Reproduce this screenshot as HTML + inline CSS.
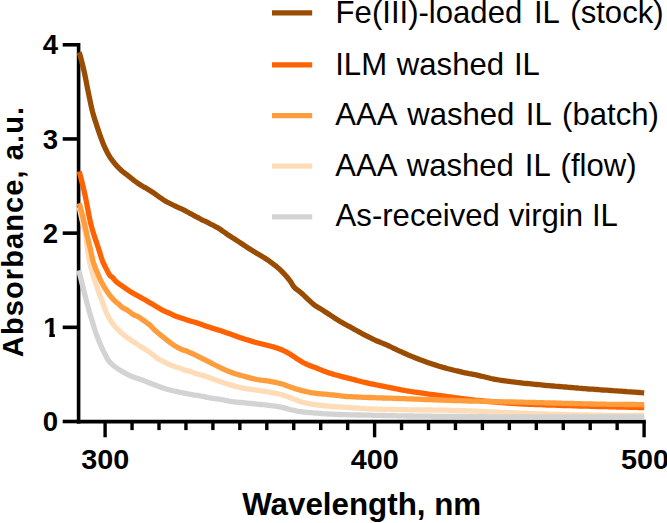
<!DOCTYPE html>
<html lang="en">
<head>
<meta charset="utf-8">
<title>UV-Vis absorbance spectra</title>
<style>
html,body{margin:0;padding:0;background:#fff;}
svg{display:block;}
text{font-family:"Liberation Sans",Arial,Helvetica,sans-serif;fill:#000;}
.r{font-size:31.1px;}
.b{font-weight:bold;}
.t{font-size:28.4px;}
.a{font-size:31px;}
</style>
</head>
<body>
<svg width="667" height="523" viewBox="0 0 667 523">
<rect x="0" y="0" width="667" height="523" fill="#fff"/>
<g id="axes">
<line x1="78.6" y1="43.0" x2="78.6" y2="423.4" stroke="#000" stroke-width="3.6"/>
<line x1="76.8" y1="421.6" x2="645.8" y2="421.6" stroke="#000" stroke-width="3.6"/>
<line x1="62.7" y1="421.50" x2="78.6" y2="421.50" stroke="#000" stroke-width="3.6"/>
<line x1="62.7" y1="327.32" x2="78.6" y2="327.32" stroke="#000" stroke-width="3.6"/>
<line x1="62.7" y1="233.14" x2="78.6" y2="233.14" stroke="#000" stroke-width="3.6"/>
<line x1="62.7" y1="138.96" x2="78.6" y2="138.96" stroke="#000" stroke-width="3.6"/>
<line x1="62.7" y1="44.78" x2="78.6" y2="44.78" stroke="#000" stroke-width="3.6"/>
<line x1="105.10" y1="421.6" x2="105.10" y2="437.3" stroke="#000" stroke-width="3.4"/>
<line x1="132.05" y1="421.6" x2="132.05" y2="430.1" stroke="#000" stroke-width="3.4"/>
<line x1="159.00" y1="421.6" x2="159.00" y2="430.1" stroke="#000" stroke-width="3.4"/>
<line x1="185.95" y1="421.6" x2="185.95" y2="430.1" stroke="#000" stroke-width="3.4"/>
<line x1="212.90" y1="421.6" x2="212.90" y2="430.1" stroke="#000" stroke-width="3.4"/>
<line x1="239.85" y1="421.6" x2="239.85" y2="430.1" stroke="#000" stroke-width="3.4"/>
<line x1="266.80" y1="421.6" x2="266.80" y2="430.1" stroke="#000" stroke-width="3.4"/>
<line x1="293.75" y1="421.6" x2="293.75" y2="430.1" stroke="#000" stroke-width="3.4"/>
<line x1="320.70" y1="421.6" x2="320.70" y2="430.1" stroke="#000" stroke-width="3.4"/>
<line x1="347.65" y1="421.6" x2="347.65" y2="430.1" stroke="#000" stroke-width="3.4"/>
<line x1="374.60" y1="421.6" x2="374.60" y2="437.3" stroke="#000" stroke-width="3.4"/>
<line x1="401.55" y1="421.6" x2="401.55" y2="430.1" stroke="#000" stroke-width="3.4"/>
<line x1="428.50" y1="421.6" x2="428.50" y2="430.1" stroke="#000" stroke-width="3.4"/>
<line x1="455.45" y1="421.6" x2="455.45" y2="430.1" stroke="#000" stroke-width="3.4"/>
<line x1="482.40" y1="421.6" x2="482.40" y2="430.1" stroke="#000" stroke-width="3.4"/>
<line x1="509.35" y1="421.6" x2="509.35" y2="430.1" stroke="#000" stroke-width="3.4"/>
<line x1="536.30" y1="421.6" x2="536.30" y2="430.1" stroke="#000" stroke-width="3.4"/>
<line x1="563.25" y1="421.6" x2="563.25" y2="430.1" stroke="#000" stroke-width="3.4"/>
<line x1="590.20" y1="421.6" x2="590.20" y2="430.1" stroke="#000" stroke-width="3.4"/>
<line x1="617.15" y1="421.6" x2="617.15" y2="430.1" stroke="#000" stroke-width="3.4"/>
<line x1="644.10" y1="421.6" x2="644.10" y2="437.3" stroke="#000" stroke-width="3.4"/>
</g>
<g id="curves">
<polyline points="79.2,207.0 79.7,209.4 80.2,211.7 80.7,214.0 81.2,216.2 81.7,218.5 82.2,220.7 82.7,222.9 83.2,225.0 83.7,227.0 84.2,228.8 84.7,230.6 85.2,232.5 85.7,234.9 86.2,238.1 86.7,242.7 87.2,247.2 87.7,250.8 88.2,254.1 88.7,257.2 89.2,260.0 89.7,262.5 90.2,264.7 90.7,266.8 91.2,268.7 91.7,270.5 92.2,272.3 92.7,274.0 93.2,275.6 93.7,277.1 94.2,278.6 94.7,280.1 95.2,281.6 95.7,283.1 96.2,284.7 96.7,286.2 97.2,287.7 97.7,289.2 98.2,290.7 98.7,292.1 99.2,293.5 99.7,294.9 100.2,296.2 100.7,297.6 101.2,298.9 101.7,300.2 102.2,301.5 102.7,302.9 103.2,304.3 103.7,305.7 104.2,307.1 104.7,308.4 105.2,309.7 105.7,310.9 106.2,312.1 106.7,313.2 107.2,314.2 107.7,315.2 108.2,316.2 108.7,317.2 109.2,318.1 109.7,318.9 110.2,319.8 110.7,320.6 111.2,321.3 111.7,322.1 112.2,322.8 112.7,323.5 113.2,324.2 113.7,324.9 114.2,325.5 114.7,326.1 115.2,326.7 115.7,327.3 116.2,327.9 116.7,328.4 117.2,328.9 117.7,329.4 118.2,329.9 118.7,330.4 119.2,330.9 119.7,331.4 120.2,331.8 120.7,332.3 121.2,332.7 121.7,333.2 122.2,333.6 122.7,334.0 123.2,334.4 123.7,334.8 124.2,335.2 124.7,335.6 125.2,336.0 125.7,336.4 126.2,336.8 126.7,337.1 127.2,337.5 127.7,337.9 128.2,338.2 128.7,338.6 129.2,338.9 129.7,339.3 130.2,339.6 130.7,340.0 131.2,340.3 131.7,340.7 132.2,341.0 132.7,341.3 133.2,341.7 133.7,342.0 134.2,342.3 134.7,342.6 135.0,342.8 137.0,344.1 139.0,345.4 141.0,346.7 143.0,348.0 145.0,349.3 147.0,350.6 149.0,351.9 151.0,353.3 153.0,354.9 155.0,356.4 157.0,358.0 159.0,359.4 161.0,360.4 163.0,361.4 165.0,362.4 167.0,363.4 169.0,364.3 171.0,365.2 173.0,366.0 175.0,366.7 177.0,367.2 179.0,367.8 181.0,368.6 183.0,369.4 185.0,370.2 187.0,370.7 189.0,371.1 191.0,371.6 193.0,372.4 195.0,373.2 197.0,373.9 199.0,374.5 201.0,374.9 203.0,375.4 205.0,376.1 207.0,376.8 209.0,377.6 211.0,378.3 213.0,379.0 215.0,379.7 217.0,380.5 219.0,381.2 221.0,381.8 223.0,382.5 225.0,383.2 227.0,383.8 229.0,384.4 231.0,385.0 233.0,385.6 235.0,386.1 237.0,386.7 239.0,387.2 241.0,387.7 243.0,388.1 245.0,388.5 247.0,388.8 249.0,389.1 251.0,389.4 253.0,389.7 255.0,389.9 257.0,390.2 259.0,390.5 261.0,390.8 263.0,391.1 265.0,391.4 267.0,391.7 269.0,392.0 271.0,392.4 273.0,392.8 275.0,393.1 277.0,393.6 279.0,394.0 281.0,394.5 283.0,395.1 285.0,395.7 287.0,396.4 289.0,397.2 291.0,397.9 293.0,398.7 295.0,399.5 297.0,400.3 299.0,401.1 301.0,401.7 303.0,402.2 305.0,402.8 307.0,403.3 309.0,403.7 311.0,404.1 313.0,404.4 315.0,404.7 317.0,405.0 319.0,405.2 321.0,405.4 323.0,405.6 325.0,405.8 327.0,406.0 329.0,406.1 331.0,406.3 333.0,406.5 335.0,406.6 337.0,406.8 339.0,406.9 341.0,407.0 343.0,407.1 345.0,407.3 347.0,407.4 349.0,407.5 351.0,407.7 353.0,407.8 355.0,407.9 357.0,408.1 359.0,408.2 361.0,408.4 363.0,408.5 365.0,408.7 367.0,408.8 369.0,408.9 371.0,408.9 373.0,409.0 375.0,409.1 377.0,409.1 379.0,409.2 381.0,409.2 383.0,409.3 385.0,409.3 387.0,409.4 389.0,409.4 391.0,409.5 393.0,409.5 395.0,409.5 397.0,409.6 399.0,409.6 401.0,409.7 403.0,409.7 405.0,409.7 407.0,409.8 409.0,409.8 411.0,409.8 413.0,409.8 415.0,409.9 417.0,409.9 419.0,409.9 421.0,409.9 423.0,410.0 425.0,410.0 427.0,410.0 429.0,410.0 431.0,410.0 433.0,410.1 435.0,410.1 437.0,410.1 439.0,410.1 441.0,410.2 443.0,410.2 445.0,410.2 447.0,410.2 449.0,410.3 451.0,410.3 453.0,410.4 455.0,410.4 457.0,410.5 459.0,410.5 461.0,410.6 463.0,410.7 465.0,410.7 467.0,410.8 469.0,410.9 471.0,411.0 473.0,411.1 475.0,411.2 477.0,411.2 479.0,411.3 481.0,411.4 483.0,411.5 485.0,411.6 487.0,411.7 489.0,411.8 491.0,411.8 493.0,411.9 495.0,412.0 497.0,412.1 499.0,412.2 501.0,412.3 503.0,412.4 505.0,412.4 507.0,412.5 509.0,412.6 511.0,412.7 513.0,412.8 515.0,412.9 517.0,413.0 519.0,413.1 521.0,413.1 523.0,413.2 525.0,413.3 527.0,413.4 529.0,413.5 531.0,413.5 533.0,413.6 535.0,413.7 537.0,413.8 539.0,413.8 541.0,413.9 543.0,414.0 545.0,414.0 547.0,414.1 549.0,414.2 551.0,414.3 553.0,414.3 555.0,414.4 557.0,414.4 559.0,414.5 561.0,414.6 563.0,414.6 565.0,414.7 567.0,414.7 569.0,414.7 571.0,414.8 573.0,414.8 575.0,414.8 577.0,414.9 579.0,414.9 581.0,414.9 583.0,415.0 585.0,415.0 587.0,415.0 589.0,415.1 591.0,415.1 593.0,415.1 595.0,415.1 597.0,415.2 599.0,415.2 601.0,415.2 603.0,415.2 605.0,415.3 607.0,415.3 609.0,415.3 611.0,415.3 613.0,415.3 615.0,415.4 617.0,415.4 619.0,415.4 621.0,415.4 623.0,415.4 625.0,415.4 627.0,415.4 629.0,415.5 631.0,415.5 633.0,415.5 635.0,415.5 637.0,415.5 639.0,415.5 641.0,415.5 643.0,415.5 644.2,415.5" fill="none" stroke="#FEDCB8" stroke-width="5.3" stroke-linejoin="round" stroke-linecap="butt"/>
<polyline points="79.2,171.3 79.7,173.2 80.2,175.1 80.7,177.0 81.2,179.0 81.7,181.0 82.2,183.0 82.7,185.1 83.2,187.2 83.7,189.3 84.2,191.5 84.7,193.7 85.2,195.9 85.7,198.3 86.2,200.7 86.7,203.3 87.2,205.9 87.7,208.6 88.2,211.2 88.7,213.9 89.2,216.4 89.7,218.9 90.2,221.2 90.7,223.4 91.2,225.4 91.7,227.3 92.2,229.1 92.7,230.8 93.2,232.4 93.7,234.0 94.2,235.6 94.7,237.1 95.2,238.6 95.7,240.1 96.2,241.5 96.7,243.0 97.2,244.5 97.7,246.0 98.2,247.5 98.7,249.0 99.2,250.6 99.7,252.3 100.2,253.9 100.7,255.6 101.2,257.2 101.7,258.7 102.2,260.2 102.7,261.5 103.2,262.7 103.7,263.8 104.2,264.8 104.7,265.8 105.2,266.8 105.7,267.7 106.2,268.6 106.7,269.6 107.2,270.6 107.7,271.6 108.2,272.6 108.7,273.6 109.2,274.4 109.7,275.1 110.2,275.7 110.7,276.1 111.2,276.5 111.7,276.8 112.2,277.2 112.7,277.6 113.2,278.1 113.7,278.7 114.2,279.4 114.7,280.0 115.2,280.6 115.7,281.2 116.2,281.7 116.7,282.1 117.2,282.5 117.7,282.9 118.2,283.3 118.7,283.6 119.2,284.0 119.7,284.3 120.2,284.7 120.7,285.0 121.2,285.3 121.7,285.7 122.2,286.0 122.7,286.4 123.2,286.7 123.7,287.1 124.2,287.4 124.7,287.8 125.2,288.1 125.7,288.5 126.2,288.8 126.7,289.2 127.2,289.5 127.7,289.8 128.2,290.2 128.7,290.5 129.2,290.8 129.7,291.2 130.2,291.5 130.7,291.8 131.2,292.1 131.7,292.4 132.2,292.7 132.7,293.0 133.2,293.3 133.7,293.6 134.2,293.9 134.7,294.2 135.0,294.3 137.0,295.4 139.0,296.5 141.0,297.6 143.0,298.7 145.0,299.8 147.0,301.0 149.0,302.2 151.0,303.4 153.0,304.5 155.0,305.7 157.0,306.9 159.0,308.1 161.0,309.4 163.0,310.5 165.0,311.4 167.0,312.2 169.0,313.0 171.0,313.9 173.0,315.0 175.0,315.9 177.0,316.6 179.0,317.2 181.0,317.9 183.0,318.6 185.0,319.3 187.0,320.0 189.0,320.6 191.0,321.2 193.0,321.8 195.0,322.3 197.0,322.9 199.0,323.6 201.0,324.2 203.0,325.0 205.0,325.7 207.0,326.4 209.0,327.1 211.0,327.8 213.0,328.4 215.0,329.0 217.0,329.6 219.0,330.2 221.0,330.8 223.0,331.5 225.0,332.2 227.0,332.9 229.0,333.6 231.0,334.3 233.0,335.1 235.0,335.8 237.0,336.5 239.0,337.2 241.0,337.9 243.0,338.5 245.0,339.2 247.0,339.8 249.0,340.4 251.0,341.0 253.0,341.6 255.0,342.2 257.0,342.7 259.0,343.2 261.0,343.7 263.0,344.2 265.0,344.7 267.0,345.2 269.0,345.7 271.0,346.3 273.0,346.8 275.0,347.4 277.0,348.1 279.0,348.8 281.0,349.5 283.0,350.4 285.0,351.3 287.0,352.4 289.0,353.5 291.0,354.7 293.0,356.0 295.0,357.4 297.0,358.8 299.0,360.1 301.0,361.3 303.0,362.5 305.0,363.5 307.0,364.4 309.0,365.2 311.0,366.0 313.0,366.8 315.0,367.6 317.0,368.3 319.0,369.1 321.0,369.9 323.0,370.7 325.0,371.4 327.0,372.2 329.0,372.9 331.0,373.5 333.0,374.1 335.0,374.7 337.0,375.3 339.0,375.8 341.0,376.4 343.0,376.9 345.0,377.4 347.0,377.9 349.0,378.4 351.0,378.9 353.0,379.4 355.0,379.9 357.0,380.5 359.0,381.0 361.0,381.5 363.0,382.0 365.0,382.4 367.0,382.9 369.0,383.4 371.0,383.8 373.0,384.2 375.0,384.6 377.0,385.0 379.0,385.4 381.0,385.8 383.0,386.2 385.0,386.6 387.0,387.0 389.0,387.4 391.0,387.8 393.0,388.2 395.0,388.6 397.0,389.0 399.0,389.4 401.0,389.8 403.0,390.1 405.0,390.5 407.0,390.8 409.0,391.2 411.0,391.5 413.0,391.8 415.0,392.1 417.0,392.4 419.0,392.7 421.0,393.0 423.0,393.2 425.0,393.5 427.0,393.8 429.0,394.1 431.0,394.3 433.0,394.6 435.0,394.9 437.0,395.2 439.0,395.4 441.0,395.7 443.0,396.0 445.0,396.2 447.0,396.5 449.0,396.8 451.0,397.0 453.0,397.3 455.0,397.6 457.0,397.8 459.0,398.1 461.0,398.4 463.0,398.6 465.0,398.9 467.0,399.1 469.0,399.4 471.0,399.6 473.0,399.8 475.0,400.1 477.0,400.3 479.0,400.5 481.0,400.7 483.0,400.9 485.0,401.1 487.0,401.3 489.0,401.5 491.0,401.7 493.0,401.9 495.0,402.0 497.0,402.2 499.0,402.4 501.0,402.5 503.0,402.7 505.0,402.9 507.0,403.0 509.0,403.1 511.0,403.3 513.0,403.4 515.0,403.5 517.0,403.6 519.0,403.8 521.0,403.9 523.0,404.0 525.0,404.1 527.0,404.2 529.0,404.3 531.0,404.3 533.0,404.4 535.0,404.5 537.0,404.6 539.0,404.7 541.0,404.7 543.0,404.8 545.0,404.9 547.0,405.0 549.0,405.0 551.0,405.1 553.0,405.2 555.0,405.2 557.0,405.3 559.0,405.4 561.0,405.4 563.0,405.5 565.0,405.6 567.0,405.6 569.0,405.7 571.0,405.7 573.0,405.8 575.0,405.9 577.0,405.9 579.0,406.0 581.0,406.0 583.0,406.1 585.0,406.1 587.0,406.2 589.0,406.2 591.0,406.3 593.0,406.4 595.0,406.4 597.0,406.5 599.0,406.5 601.0,406.6 603.0,406.6 605.0,406.7 607.0,406.7 609.0,406.8 611.0,406.8 613.0,406.9 615.0,406.9 617.0,407.0 619.0,407.0 621.0,407.1 623.0,407.1 625.0,407.2 627.0,407.2 629.0,407.3 631.0,407.3 633.0,407.4 635.0,407.4 637.0,407.4 639.0,407.5 641.0,407.5 643.0,407.6 644.2,407.6" fill="none" stroke="#FF6200" stroke-width="5.3" stroke-linejoin="round" stroke-linecap="butt"/>
<polyline points="79.2,203.2 79.7,204.9 80.2,206.7 80.7,208.5 81.2,210.4 81.7,212.3 82.2,214.3 82.7,216.3 83.2,218.3 83.7,220.4 84.2,222.5 84.7,224.6 85.2,226.8 85.7,229.1 86.2,231.4 86.7,233.8 87.2,236.0 87.7,238.1 88.2,240.2 88.7,242.2 89.2,244.3 89.7,246.3 90.2,248.4 90.7,250.6 91.2,253.0 91.7,255.3 92.2,257.6 92.7,259.8 93.2,261.7 93.7,263.3 94.2,264.8 94.7,266.1 95.2,267.4 95.7,268.7 96.2,269.9 96.7,271.1 97.2,272.3 97.7,273.6 98.2,274.8 98.7,276.0 99.2,277.2 99.7,278.3 100.2,279.4 100.7,280.5 101.2,281.5 101.7,282.5 102.2,283.4 102.7,284.3 103.2,285.2 103.7,286.1 104.2,287.0 104.7,287.8 105.2,288.6 105.7,289.4 106.2,290.2 106.7,290.9 107.2,291.7 107.7,292.4 108.2,293.1 108.7,293.8 109.2,294.5 109.7,295.1 110.2,295.8 110.7,296.4 111.2,297.0 111.7,297.6 112.2,298.1 112.7,298.7 113.2,299.3 113.7,299.8 114.2,300.3 114.7,300.8 115.2,301.3 115.7,301.7 116.2,302.2 116.7,302.6 117.2,302.9 117.7,303.3 118.2,303.7 118.7,304.1 119.2,304.6 119.7,305.1 120.2,305.6 120.7,306.1 121.2,306.6 121.7,307.1 122.2,307.4 122.7,307.8 123.2,308.0 123.7,308.3 124.2,308.6 124.7,308.8 125.2,309.0 125.7,309.3 126.2,309.5 126.7,309.8 127.2,310.1 127.7,310.5 128.2,310.8 128.7,311.2 129.2,311.6 129.7,311.9 130.2,312.3 130.7,312.7 131.2,313.1 131.7,313.5 132.2,313.9 132.7,314.2 133.2,314.5 133.7,314.8 134.2,315.0 134.7,315.3 135.0,315.4 137.0,316.1 139.0,317.2 141.0,318.6 143.0,320.0 145.0,321.4 147.0,322.9 149.0,324.3 151.0,326.1 153.0,328.3 155.0,330.3 157.0,332.1 159.0,333.8 161.0,335.4 163.0,336.9 165.0,338.5 167.0,340.1 169.0,341.6 171.0,343.2 173.0,344.6 175.0,345.9 177.0,347.1 179.0,348.2 181.0,349.2 183.0,350.0 185.0,350.6 187.0,351.3 189.0,352.2 191.0,353.0 193.0,353.9 195.0,354.9 197.0,355.8 199.0,356.8 201.0,357.8 203.0,358.8 205.0,359.8 207.0,360.9 209.0,361.9 211.0,362.9 213.0,364.0 215.0,365.0 217.0,366.0 219.0,367.0 221.0,368.0 223.0,368.9 225.0,369.8 227.0,370.7 229.0,371.6 231.0,372.3 233.0,373.0 235.0,373.7 237.0,374.3 239.0,374.9 241.0,375.5 243.0,376.0 245.0,376.5 247.0,377.1 249.0,377.6 251.0,378.2 253.0,378.6 255.0,379.1 257.0,379.5 259.0,379.8 261.0,380.1 263.0,380.3 265.0,380.6 267.0,380.9 269.0,381.2 271.0,381.6 273.0,381.9 275.0,382.3 277.0,382.7 279.0,383.2 281.0,383.7 283.0,384.3 285.0,385.0 287.0,385.8 289.0,386.5 291.0,387.3 293.0,387.9 295.0,388.6 297.0,389.2 299.0,389.8 301.0,390.4 303.0,390.9 305.0,391.3 307.0,391.8 309.0,392.2 311.0,392.6 313.0,392.9 315.0,393.2 317.0,393.5 319.0,393.7 321.0,393.9 323.0,394.1 325.0,394.2 327.0,394.4 329.0,394.6 331.0,394.8 333.0,395.0 335.0,395.2 337.0,395.4 339.0,395.6 341.0,395.9 343.0,396.1 345.0,396.3 347.0,396.5 349.0,396.6 351.0,396.7 353.0,396.9 355.0,396.9 357.0,397.0 359.0,397.1 361.0,397.2 363.0,397.3 365.0,397.3 367.0,397.4 369.0,397.5 371.0,397.5 373.0,397.6 375.0,397.7 377.0,397.8 379.0,397.8 381.0,397.9 383.0,398.0 385.0,398.0 387.0,398.1 389.0,398.2 391.0,398.2 393.0,398.3 395.0,398.4 397.0,398.4 399.0,398.5 401.0,398.6 403.0,398.7 405.0,398.7 407.0,398.8 409.0,398.9 411.0,398.9 413.0,399.0 415.0,399.1 417.0,399.2 419.0,399.2 421.0,399.3 423.0,399.4 425.0,399.5 427.0,399.6 429.0,399.6 431.0,399.7 433.0,399.8 435.0,399.9 437.0,399.9 439.0,400.0 441.0,400.1 443.0,400.2 445.0,400.2 447.0,400.3 449.0,400.4 451.0,400.4 453.0,400.5 455.0,400.6 457.0,400.6 459.0,400.7 461.0,400.7 463.0,400.8 465.0,400.8 467.0,400.9 469.0,401.0 471.0,401.0 473.0,401.1 475.0,401.1 477.0,401.2 479.0,401.2 481.0,401.3 483.0,401.3 485.0,401.4 487.0,401.4 489.0,401.5 491.0,401.5 493.0,401.6 495.0,401.6 497.0,401.7 499.0,401.7 501.0,401.8 503.0,401.8 505.0,401.8 507.0,401.9 509.0,401.9 511.0,402.0 513.0,402.0 515.0,402.1 517.0,402.1 519.0,402.2 521.0,402.2 523.0,402.2 525.0,402.3 527.0,402.3 529.0,402.4 531.0,402.4 533.0,402.5 535.0,402.5 537.0,402.6 539.0,402.6 541.0,402.7 543.0,402.7 545.0,402.8 547.0,402.8 549.0,402.9 551.0,402.9 553.0,403.0 555.0,403.0 557.0,403.1 559.0,403.2 561.0,403.2 563.0,403.3 565.0,403.3 567.0,403.4 569.0,403.4 571.0,403.5 573.0,403.5 575.0,403.6 577.0,403.6 579.0,403.7 581.0,403.7 583.0,403.8 585.0,403.8 587.0,403.9 589.0,403.9 591.0,404.0 593.0,404.0 595.0,404.1 597.0,404.1 599.0,404.1 601.0,404.2 603.0,404.2 605.0,404.2 607.0,404.3 609.0,404.3 611.0,404.3 613.0,404.3 615.0,404.4 617.0,404.4 619.0,404.4 621.0,404.4 623.0,404.4 625.0,404.5 627.0,404.5 629.0,404.5 631.0,404.5 633.0,404.5 635.0,404.5 637.0,404.6 639.0,404.6 641.0,404.6 643.0,404.6 644.2,404.6" fill="none" stroke="#FF9C3C" stroke-width="5.3" stroke-linejoin="round" stroke-linecap="butt"/>
<polyline points="79.2,52.3 79.7,54.0 80.2,55.7 80.7,57.5 81.2,59.4 81.7,61.3 82.2,63.3 82.7,65.3 83.2,67.4 83.7,69.5 84.2,71.8 84.7,74.1 85.2,76.6 85.7,79.1 86.2,81.6 86.7,84.2 87.2,86.8 87.7,89.3 88.2,91.8 88.7,94.2 89.2,96.6 89.7,99.0 90.2,101.4 90.7,103.8 91.2,106.1 91.7,108.3 92.2,110.4 92.7,112.4 93.2,114.2 93.7,115.9 94.2,117.6 94.7,119.2 95.2,120.7 95.7,122.2 96.2,123.8 96.7,125.3 97.2,126.9 97.7,128.4 98.2,130.0 98.7,131.4 99.2,132.9 99.7,134.3 100.2,135.7 100.7,137.1 101.2,138.5 101.7,139.8 102.2,141.1 102.7,142.4 103.2,143.7 103.7,144.9 104.2,146.0 104.7,147.1 105.2,148.2 105.7,149.3 106.2,150.3 106.7,151.3 107.2,152.3 107.7,153.2 108.2,154.1 108.7,155.0 109.2,155.9 109.7,156.7 110.2,157.5 110.7,158.2 111.2,158.9 111.7,159.6 112.2,160.3 112.7,161.0 113.2,161.6 113.7,162.3 114.2,162.9 114.7,163.5 115.2,164.1 115.7,164.7 116.2,165.2 116.7,165.8 117.2,166.3 117.7,166.9 118.2,167.4 118.7,167.9 119.2,168.4 119.7,168.9 120.2,169.4 120.7,169.8 121.2,170.3 121.7,170.7 122.2,171.2 122.7,171.6 123.2,172.0 123.7,172.4 124.2,172.8 124.7,173.2 125.2,173.5 125.7,173.9 126.2,174.3 126.7,174.6 127.2,175.0 127.7,175.4 128.2,175.8 128.7,176.2 129.2,176.6 129.7,177.0 130.2,177.4 130.7,177.8 131.2,178.2 131.7,178.6 132.2,179.0 132.7,179.4 133.2,179.8 133.7,180.2 134.2,180.6 134.7,180.9 135.0,181.2 137.0,182.6 139.0,184.0 141.0,185.3 143.0,186.5 145.0,187.6 147.0,188.8 149.0,190.0 151.0,191.2 153.0,192.5 155.0,193.9 157.0,195.4 159.0,196.8 161.0,198.2 163.0,199.6 165.0,200.9 167.0,202.0 169.0,203.0 171.0,204.0 173.0,205.0 175.0,206.0 177.0,206.9 179.0,207.8 181.0,208.7 183.0,209.6 185.0,210.6 187.0,211.7 189.0,212.8 191.0,213.8 193.0,215.0 195.0,216.1 197.0,217.2 199.0,218.2 201.0,219.3 203.0,220.3 205.0,221.2 207.0,222.2 209.0,223.2 211.0,224.3 213.0,225.2 215.0,226.3 217.0,227.3 219.0,228.5 221.0,229.8 223.0,231.3 225.0,232.7 227.0,234.2 229.0,235.5 231.0,236.8 233.0,238.1 235.0,239.3 237.0,240.6 239.0,241.9 241.0,243.2 243.0,244.5 245.0,245.9 247.0,247.2 249.0,248.5 251.0,249.8 253.0,251.0 255.0,252.2 257.0,253.4 259.0,254.6 261.0,255.7 263.0,256.9 265.0,258.2 267.0,259.5 269.0,260.9 271.0,262.3 273.0,263.8 275.0,265.3 277.0,267.0 279.0,268.7 281.0,270.6 283.0,272.6 285.0,274.8 287.0,277.1 289.0,279.5 291.0,282.2 293.0,285.7 295.0,288.1 297.0,289.7 299.0,291.1 301.0,292.7 303.0,294.5 305.0,296.5 307.0,298.4 309.0,300.3 311.0,302.1 313.0,303.9 315.0,305.5 317.0,306.7 319.0,307.9 321.0,309.1 323.0,310.4 325.0,311.7 327.0,313.0 329.0,314.3 331.0,315.6 333.0,316.9 335.0,318.2 337.0,319.5 339.0,320.7 341.0,321.9 343.0,323.1 345.0,324.2 347.0,325.3 349.0,326.3 351.0,327.4 353.0,328.6 355.0,329.7 357.0,330.8 359.0,331.9 361.0,333.0 363.0,334.1 365.0,335.1 367.0,336.2 369.0,337.2 371.0,338.2 373.0,339.2 375.0,340.1 377.0,341.0 379.0,341.8 381.0,342.6 383.0,343.4 385.0,344.2 387.0,345.1 389.0,346.0 391.0,347.0 393.0,348.0 395.0,348.9 397.0,349.9 399.0,350.8 401.0,351.7 403.0,352.6 405.0,353.5 407.0,354.4 409.0,355.3 411.0,356.1 413.0,356.9 415.0,357.7 417.0,358.5 419.0,359.3 421.0,360.1 423.0,360.8 425.0,361.5 427.0,362.2 429.0,362.9 431.0,363.6 433.0,364.2 435.0,364.9 437.0,365.5 439.0,366.2 441.0,366.8 443.0,367.4 445.0,367.9 447.0,368.5 449.0,369.0 451.0,369.5 453.0,370.0 455.0,370.5 457.0,370.9 459.0,371.4 461.0,371.9 463.0,372.4 465.0,372.8 467.0,373.2 469.0,373.6 471.0,373.9 473.0,374.3 475.0,374.7 477.0,375.1 479.0,375.6 481.0,376.1 483.0,376.5 485.0,377.0 487.0,377.5 489.0,378.0 491.0,378.5 493.0,378.9 495.0,379.3 497.0,379.7 499.0,380.0 501.0,380.3 503.0,380.6 505.0,380.9 507.0,381.2 509.0,381.4 511.0,381.7 513.0,381.9 515.0,382.2 517.0,382.4 519.0,382.6 521.0,382.8 523.0,383.1 525.0,383.3 527.0,383.5 529.0,383.7 531.0,383.9 533.0,384.1 535.0,384.3 537.0,384.5 539.0,384.7 541.0,384.9 543.0,385.1 545.0,385.3 547.0,385.5 549.0,385.6 551.0,385.8 553.0,386.0 555.0,386.2 557.0,386.3 559.0,386.5 561.0,386.7 563.0,386.9 565.0,387.0 567.0,387.2 569.0,387.4 571.0,387.5 573.0,387.7 575.0,387.9 577.0,388.0 579.0,388.2 581.0,388.3 583.0,388.5 585.0,388.6 587.0,388.8 589.0,389.0 591.0,389.1 593.0,389.2 595.0,389.4 597.0,389.5 599.0,389.7 601.0,389.8 603.0,390.0 605.0,390.1 607.0,390.2 609.0,390.4 611.0,390.5 613.0,390.7 615.0,390.8 617.0,390.9 619.0,391.1 621.0,391.2 623.0,391.4 625.0,391.5 627.0,391.7 629.0,391.8 631.0,391.9 633.0,392.1 635.0,392.2 637.0,392.4 639.0,392.5 641.0,392.7 643.0,392.8 644.2,392.9" fill="none" stroke="#994C02" stroke-width="5.3" stroke-linejoin="round" stroke-linecap="butt"/>
<polyline points="78.8,270.4 79.3,272.4 79.8,274.4 80.3,276.4 80.8,278.4 81.3,280.4 81.8,282.4 82.3,284.4 82.8,286.4 83.3,288.4 83.8,290.4 84.3,292.4 84.8,294.4 85.3,296.4 85.8,298.4 86.3,300.4 86.8,302.3 87.3,304.2 87.8,306.1 88.3,307.9 88.8,309.7 89.3,311.5 89.8,313.3 90.3,315.0 90.8,316.7 91.3,318.3 91.8,319.9 92.3,321.5 92.8,323.1 93.3,324.7 93.8,326.4 94.3,328.2 94.8,329.9 95.3,331.4 95.8,332.8 96.3,334.2 96.8,335.5 97.3,336.8 97.8,338.1 98.3,339.3 98.8,340.5 99.3,341.7 99.8,342.9 100.3,344.1 100.8,345.3 101.3,346.4 101.8,347.6 102.3,348.7 102.8,349.8 103.3,350.9 103.8,351.9 104.3,352.9 104.8,353.9 105.3,354.9 105.8,355.9 106.3,356.8 106.8,357.7 107.3,358.6 107.8,359.4 108.3,360.2 108.8,360.9 109.3,361.5 109.8,362.1 110.3,362.6 110.8,363.2 111.3,363.7 111.8,364.1 112.3,364.6 112.8,365.0 113.3,365.5 113.8,365.9 114.3,366.3 114.8,366.6 115.3,367.0 115.8,367.4 116.3,367.8 116.8,368.1 117.3,368.4 117.8,368.8 118.3,369.1 118.8,369.4 119.3,369.7 119.8,370.0 120.3,370.3 120.8,370.6 121.3,370.9 121.8,371.2 122.3,371.5 122.8,371.8 123.3,372.1 123.8,372.3 124.3,372.6 124.8,372.9 125.3,373.2 125.8,373.5 126.3,373.8 126.8,374.1 127.3,374.3 127.8,374.6 128.3,374.9 128.8,375.1 129.3,375.4 129.8,375.6 130.3,375.8 130.8,376.0 131.3,376.2 131.8,376.4 132.3,376.6 132.8,376.8 133.3,377.0 133.8,377.2 134.3,377.3 134.8,377.5 135.0,377.6 137.0,378.2 139.0,378.9 141.0,379.5 143.0,380.3 145.0,381.1 147.0,381.9 149.0,382.7 151.0,383.5 153.0,384.3 155.0,385.0 157.0,385.8 159.0,386.5 161.0,387.2 163.0,387.9 165.0,388.6 167.0,389.2 169.0,389.7 171.0,390.2 173.0,390.7 175.0,391.2 177.0,391.6 179.0,392.1 181.0,392.5 183.0,392.9 185.0,393.3 187.0,393.7 189.0,394.1 191.0,394.4 193.0,394.8 195.0,395.1 197.0,395.4 199.0,395.7 201.0,396.1 203.0,396.4 205.0,396.9 207.0,397.3 209.0,397.8 211.0,398.1 213.0,398.4 215.0,398.7 217.0,398.9 219.0,399.2 221.0,399.5 223.0,399.8 225.0,400.3 227.0,400.7 229.0,401.1 231.0,401.5 233.0,401.7 235.0,402.0 237.0,402.1 239.0,402.3 241.0,402.5 243.0,402.7 245.0,402.9 247.0,403.1 249.0,403.3 251.0,403.5 253.0,403.7 255.0,403.9 257.0,404.1 259.0,404.3 261.0,404.5 263.0,404.7 265.0,404.8 267.0,405.1 269.0,405.3 271.0,405.6 273.0,405.8 275.0,406.1 277.0,406.4 279.0,406.8 281.0,407.2 283.0,407.6 285.0,408.1 287.0,408.6 289.0,409.2 291.0,409.7 293.0,410.2 295.0,410.6 297.0,411.1 299.0,411.4 301.0,411.7 303.0,412.0 305.0,412.2 307.0,412.4 309.0,412.6 311.0,412.7 313.0,412.9 315.0,413.1 317.0,413.2 319.0,413.4 321.0,413.5 323.0,413.7 325.0,413.8 327.0,413.9 329.0,414.0 331.0,414.1 333.0,414.2 335.0,414.3 337.0,414.4 339.0,414.5 341.0,414.5 343.0,414.6 345.0,414.7 347.0,414.7 349.0,414.8 351.0,414.8 353.0,414.9 355.0,414.9 357.0,415.0 359.0,415.0 361.0,415.0 363.0,415.1 365.0,415.1 367.0,415.1 369.0,415.2 371.0,415.2 373.0,415.3 375.0,415.3 377.0,415.3 379.0,415.4 381.0,415.4 383.0,415.5 385.0,415.5 387.0,415.6 389.0,415.6 391.0,415.7 393.0,415.7 395.0,415.7 397.0,415.8 399.0,415.8 401.0,415.9 403.0,415.9 405.0,415.9 407.0,416.0 409.0,416.0 411.0,416.0 413.0,416.0 415.0,416.1 417.0,416.1 419.0,416.1 421.0,416.1 423.0,416.2 425.0,416.2 427.0,416.2 429.0,416.2 431.0,416.2 433.0,416.3 435.0,416.3 437.0,416.3 439.0,416.3 441.0,416.3 443.0,416.3 445.0,416.4 447.0,416.4 449.0,416.4 451.0,416.4 453.0,416.4 455.0,416.4 457.0,416.5 459.0,416.5 461.0,416.5 463.0,416.5 465.0,416.5 467.0,416.6 469.0,416.6 471.0,416.6 473.0,416.6 475.0,416.6 477.0,416.7 479.0,416.7 481.0,416.7 483.0,416.7 485.0,416.7 487.0,416.8 489.0,416.8 491.0,416.8 493.0,416.8 495.0,416.8 497.0,416.8 499.0,416.9 501.0,416.9 503.0,416.9 505.0,416.9 507.0,416.9 509.0,416.9 511.0,416.9 513.0,417.0 515.0,417.0 517.0,417.0 519.0,417.0 521.0,417.0 523.0,417.0 525.0,417.0 527.0,417.0 529.0,417.0 531.0,417.0 533.0,417.0 535.0,417.0 537.0,417.0 539.0,417.0 541.0,417.0 543.0,417.0 545.0,417.0 547.0,417.0 549.0,417.0 551.0,417.0 553.0,417.0 555.0,417.0 557.0,417.0 559.0,417.0 561.0,417.0 563.0,417.0 565.0,417.0 567.0,417.0 569.0,417.0 571.0,417.0 573.0,417.0 575.0,417.0 577.0,417.0 579.0,417.0 581.0,417.0 583.0,417.0 585.0,417.0 587.0,417.0 589.0,417.0 591.0,417.0 593.0,417.0 595.0,417.0 597.0,417.0 599.0,417.0 601.0,417.0 603.0,417.0 605.0,417.0 607.0,417.0 609.0,417.0 611.0,417.0 613.0,417.0 615.0,417.0 617.0,417.0 619.0,417.0 621.0,417.0 623.0,417.0 625.0,417.0 627.0,417.0 629.0,417.0 631.0,417.0 633.0,417.0 635.0,417.0 637.0,417.0 639.0,417.0 641.0,417.0 643.0,417.0 644.2,417.0" fill="none" stroke="#D3D3D3" stroke-width="5.3" stroke-linejoin="round" stroke-linecap="butt"/>
</g>
<g id="legend">
<line x1="272" y1="12.8" x2="312.2" y2="12.8" stroke="#994C02" stroke-width="5.3"/>
<text class="r" style="word-spacing:3.00px" transform="translate(335.6,22.8) scale(1.0,1)">Fe(III)-loaded IL (stock)</text>
<line x1="272" y1="64.8" x2="312.2" y2="64.8" stroke="#FF6200" stroke-width="5.3"/>
<text class="r" style="word-spacing:1.20px" transform="translate(335.2,74.9) scale(1.0,1)">ILM washed IL</text>
<line x1="272" y1="115.6" x2="312.2" y2="115.6" stroke="#FF9C3C" stroke-width="5.3"/>
<text class="r" style="word-spacing:2.80px" transform="translate(335.3,125.3) scale(1.0,1)">AAA washed IL (batch)</text>
<line x1="272" y1="166.2" x2="312.2" y2="166.2" stroke="#FEDCB8" stroke-width="5.3"/>
<text class="r" style="word-spacing:2.30px" transform="translate(335.3,175.6) scale(1.0,1)">AAA washed IL (flow)</text>
<line x1="272" y1="216.8" x2="312.2" y2="216.8" stroke="#D3D3D3" stroke-width="5.3"/>
<text class="r" style="word-spacing:0.30px" transform="translate(335.6,226.1) scale(1.0,1)">As-received virgin IL</text>
</g>
<g id="ticklabels">
<text class="b" style="font-size:27.6px" text-anchor="end" transform="translate(58.1,431.0) scale(1,1.03)">0</text>
<clipPath id="c1"><rect x="40" y="313.3" width="19" height="20.4"/><rect x="49.3" y="333.6" width="5.6" height="4.4"/></clipPath>
<g clip-path="url(#c1)"><text class="b" style="font-size:27.6px" text-anchor="end" transform="translate(58.7,336.8) scale(1,1.03)">1</text></g>
<text class="b" style="font-size:27.6px" text-anchor="end" transform="translate(58.1,242.6) scale(1,1.03)">2</text>
<text class="b" style="font-size:27.6px" text-anchor="end" transform="translate(58.1,148.5) scale(1,1.03)">3</text>
<text class="b" style="font-size:27.6px" text-anchor="end" transform="translate(58.1,54.3) scale(1,1.03)">4</text>
<text class="b t" text-anchor="middle" transform="translate(105.3,468.5) scale(1.014,1)">300</text>
<text class="b t" text-anchor="middle" transform="translate(374.8,468.5) scale(1.014,1)">400</text>
<text class="b t" text-anchor="middle" transform="translate(644.9,468.5) scale(1.014,1)">500</text>
</g>
<g id="titles">
<text class="b a" text-anchor="middle" transform="translate(361.7,515.1) scale(1.011,1)">Wavelength, nm</text>
<text class="b" style="font-size:29px;letter-spacing:1.1px" text-anchor="middle" transform="translate(22.9,231.5) rotate(-90)">Absorbance, a.u.</text>
</g>
</svg>
</body>
</html>
